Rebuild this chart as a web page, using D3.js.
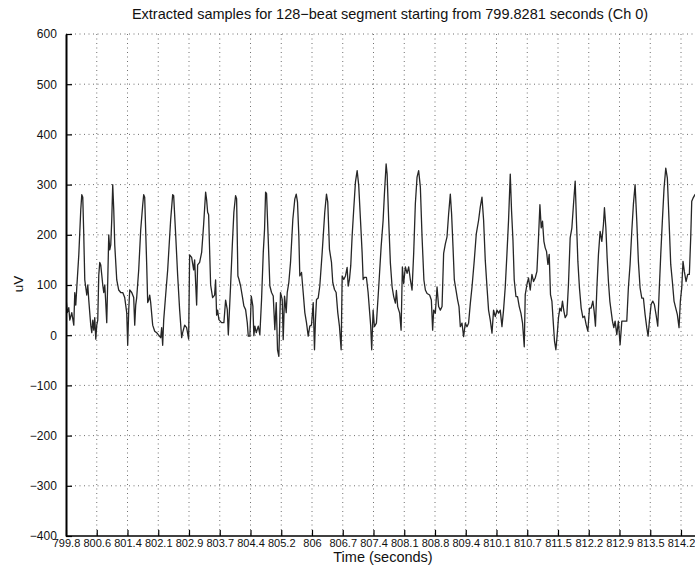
<!DOCTYPE html>
<html>
<head>
<meta charset="utf-8">
<script src="https://cdn.jsdelivr.net/npm/d3@7"></script>
<style>
  body { margin: 0; background: #fff; }
  text { font-family: "Liberation Sans", Arial, sans-serif; fill: #111; }
</style>
</head>
<body>
<div class="main"></div>
<script>
// segment start (s) and tick spacing
let t0 = 799.8281;
let tickStep = 0.7186;

let xTickLabels = ["799.8", "800.6", "801.4", "802.1", "802.9", "803.7", "804.4",
  "805.2", "806", "806.7", "807.4", "808.1", "808.8", "809.4", "810.1", "810.7",
  "811.5", "812.2", "812.9", "813.5", "814.2"];
let yTicks = [-400, -300, -200, -100, 0, 100, 200, 300, 400, 500, 600];

// time since segment start (s)
let sampleTimes = [
  0.000, 0.030, 0.065, 0.089, 0.135, 0.182, 0.205, 0.229, 0.252, 0.299, 0.345, 0.369, 0.392, 0.415,
  0.439, 0.462, 0.485, 0.509, 0.532, 0.555, 0.579, 0.602, 0.626, 0.649, 0.672, 0.696, 0.719, 0.742,
  0.766, 0.789, 0.812, 0.836, 0.859, 0.882, 0.906, 0.929, 0.952, 0.976, 0.999, 1.022, 1.046, 1.069,
  1.092, 1.116, 1.139, 1.186, 1.232, 1.279, 1.326, 1.372, 1.419, 1.442, 1.466, 1.489, 1.536, 1.582,
  1.606, 1.629, 1.652, 1.699, 1.746, 1.793, 1.816, 1.839, 1.886, 1.909, 1.933, 1.956, 1.979, 2.026,
  2.073, 2.119, 2.166, 2.213, 2.236, 2.259, 2.283, 2.329, 2.376, 2.446, 2.493, 2.516, 2.563, 2.609,
  2.656, 2.703, 2.726, 2.773, 2.819, 2.866, 2.889, 2.936, 2.983, 3.006, 3.053, 3.076, 3.123, 3.170,
  3.216, 3.263, 3.286, 3.310, 3.333, 3.356, 3.380, 3.426, 3.473, 3.496, 3.520, 3.543,
  3.573, 3.636, 3.690, 3.730, 3.769, 3.793, 3.846, 3.886, 3.923, 3.963, 3.987, 4.017, 4.040, 4.080,
  4.120, 4.157, 4.197, 4.236, 4.260, 4.297, 4.330, 4.367, 4.390, 4.414, 4.446, 4.493, 4.530, 4.570,
  4.610, 4.640, 4.664, 4.687, 4.726, 4.764, 4.803, 4.843, 4.880, 4.913, 4.943, 4.974, 5.013, 5.053,
  5.076, 5.107, 5.146, 5.170, 5.207, 5.247, 5.301, 5.347, 5.380, 5.410, 5.441, 5.464, 5.504, 5.543,
  5.581, 5.620, 5.660, 5.697, 5.737, 5.777, 5.807, 5.830, 5.854, 5.893, 5.931, 5.987, 6.047, 6.087,
  6.117, 6.157, 6.204, 6.234, 6.274, 6.313, 6.351, 6.390, 6.430, 6.454, 6.491, 6.531, 6.570, 6.594,
  6.624, 6.654, 6.687, 6.724, 6.764, 6.804, 6.841, 6.881, 6.920, 6.944, 6.974, 7.021, 7.060, 7.091,
  7.121, 7.144,
  7.177, 7.207, 7.254, 7.308, 7.364, 7.411, 7.441, 7.481, 7.504, 7.541, 7.581, 7.621, 7.658, 7.698,
  7.721, 7.751, 7.798, 7.831, 7.861, 7.891, 7.931, 7.971, 8.008, 8.048, 8.087, 8.125, 8.164, 8.204,
  8.241, 8.281, 8.321, 8.364, 8.398, 8.438, 8.498, 8.538, 8.568, 8.592, 8.631, 8.671, 8.708, 8.748,
  8.788, 8.825, 8.865, 8.904, 8.942, 8.981, 9.011, 9.044, 9.075, 9.114, 9.152, 9.184, 9.215, 9.254,
  9.292, 9.331, 9.371, 9.408, 9.448, 9.488, 9.541, 9.588, 9.642, 9.681, 9.721, 9.759, 9.798, 9.838,
  9.875, 9.915, 9.955, 9.992, 10.032, 10.071, 10.109, 10.148, 10.188, 10.225, 10.265, 10.305, 10.342,
  10.382, 10.412, 10.445, 10.475, 10.515, 10.552, 10.592, 10.631, 10.669, 10.709,
  10.732, 10.772, 10.809, 10.849, 10.888, 10.926, 10.965, 11.005, 11.042, 11.075, 11.105, 11.136,
  11.168, 11.199, 11.229, 11.262, 11.292, 11.322, 11.355, 11.385, 11.416, 11.448, 11.479, 11.509,
  11.542, 11.572, 11.602, 11.635, 11.665, 11.705, 11.742, 11.782, 11.822, 11.859, 11.899, 11.929,
  11.962, 11.999, 12.039, 12.079, 12.116, 12.156, 12.195, 12.233, 12.272, 12.312, 12.342, 12.373,
  12.406, 12.443, 12.482, 12.522, 12.559, 12.583, 12.616, 12.646, 12.676, 12.709, 12.739, 12.770,
  12.802, 12.832, 12.872, 12.909, 12.949, 12.989, 13.026, 13.065, 13.105, 13.142, 13.182, 13.222,
  13.259, 13.299, 13.339, 13.376, 13.416, 13.456, 13.493, 13.533, 13.572, 13.603, 13.633, 13.673,
  13.712, 13.750, 13.789, 13.829, 13.859, 13.899, 13.936, 13.976, 14.016, 14.053, 14.093, 14.132,
  14.170, 14.209, 14.249, 14.287, 14.326, 14.357, 14.389, 14.419, 14.450, 14.490, 14.529, 14.567,
  14.599, 14.623, 14.653, 14.699, 14.750
];

// amplitude (uV)
let sampleVolts = [
  75, 45, 55, 30, 45, 20, 85, 60, 95, 160, 250, 280, 275, 200,
  110, 95, 80, 100, 70, 45, 20, 5, 30, 10, 35, -8, 20, 30,
  120, 145, 140, 120, 100, 85, 100, 65, 25, 110, 200, 170, 180, 230,
  300, 250, 180, 110, 90, 85, 85, 75, 45, -20, 50, 90, 85, 75,
  20, 60, 75, 130, 210, 260, 280, 275, 140, 65, 70, 80, 65, 20,
  8, 5, 0, -5, 15, -20, 30, 80, 130, 230, 280, 278, 200, 120,
  50, -5, 5, 20, 15, -8, 160, 155, 130, 150, 60, 140, 145, 165,
  220, 285, 270, 245, 240, 170, 100, 75, 80, 110, 40, 50,
  31, 25, 25, 70, 51, 1, 98, 178, 245, 278, 272, 118, 112, 98,
  78, 58, 51, 25, -2, -2, 78, 58, -1, 18, 5, 18, 1, 71,
  165, 211, 285, 282, 191, 98, 85, 78, 11, 65, -29, -42, 85, 71,
  -9, 78, 45, 85, 105, 145, 231, 271, 281, 265, 198, 118, 125, 85,
  45, 25, -2, 18, 20, 65, -29, 31, 71, 74, 98, 165, 245, 281,
  265, 171, 145, 105, 91, 85, 45, 18, -29, 118, 111, 118, 135, 98,
  111, 138, 198, 251, 305, 328, 298, 231, 165, 111, 115, 115, 85, 51,
  18, -29,
  50, 17, 24, 96, 176, 229, 281, 341, 321, 229, 143, 96, 77, 64,
  89, 57, 44, 10, 136, 103, 136, 123, 136, 110, 90, 163, 262, 315,
  328, 295, 195, 110, 90, 83, 80, 70, 10, 50, 44, 96, 57, 50,
  57, 163, 182, 196, 242, 281, 242, 176, 110, 90, 70, 57, 17, 24,
  -3, 24, 17, 24, 63, 96, 149, 202, 229, 255, 275, 229, 149, 96,
  50, 30, 4, 50, 37, 50, 44, 50, 17, 50, 96, 163, 229,
  321, 248, 189, 110, 77, 77, 57, 44, 24, -23,
  81, 101, 114, 90, 121, 107, 114, 127, 194, 260, 214, 227,
  187, 174, 167, 141, 161, 81, 68, 28, -12, -29, 1, 35,
  54, 48, 68, 48, 35, 41, 101, 194, 214, 260, 307, 227,
  147, 94, 54, 35, 38, 21, 8, 54, 54, 68, 48, 18,
  94, 161, 207, 187, 220, 254, 214, 154, 107, 68, 48, 28,
  15, 28, 1, 28, -19, 28, 28, 28, 28, 94, 141, 207,
  260, 300, 227, 147, 94, 74, 74, 41, 15, -2, 28, 61,
  68, 61, 41, 18, 81, 161, 227, 293, 333, 313, 227, 141,
  107, 68, 54, 41, 15, 68, 94, 147, 127, 107, 121, 121,
  194, 267, 273, 280, 285
];

let width = 695, height = 570;
let plotLeft = 66, plotRight = 681, plotTop = 34, plotBottom = 536;

let svg = d3.select("div.main").append("svg")
  .attr("width", width)
  .attr("height", height);

let tickValues = xTickLabels.map(function(d, i) { return t0 + i * tickStep; });

let x = d3.scaleLinear()
  .domain([t0, t0 + (xTickLabels.length - 1) * tickStep])
  .range([plotLeft, plotRight]);

let y = d3.scaleLinear()
  .domain([-400, 600])
  .range([plotBottom, plotTop]);

// dotted grid
let grid = svg.append("g").attr("class", "grid")
  .attr("stroke", "#6f6f6f")
  .attr("stroke-width", 1)
  .attr("stroke-dasharray", "1,3.5");

grid.selectAll("line.gx")
  .data(tickValues.slice(1))
  .enter().append("line")
  .attr("class", "gx")
  .attr("x1", function(d) { return x(d); })
  .attr("x2", function(d) { return x(d); })
  .attr("y1", plotTop)
  .attr("y2", plotBottom);

grid.selectAll("line.gy")
  .data(yTicks.slice(1))
  .enter().append("line")
  .attr("class", "gy")
  .attr("x1", plotLeft)
  .attr("x2", width)
  .attr("y1", function(d) { return y(d); })
  .attr("y2", function(d) { return y(d); });

// the trace
svg.append("clipPath").attr("id", "plotclip")
  .append("rect")
  .attr("x", plotLeft).attr("y", 0)
  .attr("width", width - plotLeft).attr("height", plotBottom);

let n = Math.min(sampleTimes.length, sampleVolts.length);
let line = d3.line()
  .x(function(d, i) { return x(t0 + sampleTimes[i]); })
  .y(function(d) { return y(d); });

svg.append("path")
  .attr("d", line(sampleVolts.slice(0, n)))
  .attr("clip-path", "url(#plotclip)")
  .attr("fill", "none")
  .attr("stroke", "#262626")
  .attr("stroke-width", 1.3)
  .attr("stroke-linejoin", "round");

// axes, ticks pointing inward
let xAxis = d3.axisBottom(x)
  .tickValues(tickValues)
  .tickFormat(function(d, i) { return xTickLabels[i]; })
  .tickSizeInner(-6)
  .tickSizeOuter(0)
  .tickPadding(3);

let gx = svg.append("g")
  .attr("transform", "translate(0," + plotBottom + ")")
  .call(xAxis);
gx.select(".domain").attr("d", "M" + plotLeft + ",0H" + width).attr("stroke-width", 1.6);
gx.selectAll(".tick line").attr("stroke-width", 1.2);
gx.selectAll("text").attr("font-size", 11);

let yAxis = d3.axisLeft(y)
  .tickValues(yTicks)
  .tickSizeInner(-6)
  .tickSizeOuter(0)
  .tickPadding(8);

let gy = svg.append("g")
  .attr("transform", "translate(" + plotLeft + ",0)")
  .call(yAxis);
gy.select(".domain").attr("stroke-width", 2);
gy.selectAll(".tick line").attr("stroke-width", 1.2);
gy.selectAll("text").attr("font-size", 12).attr("dx", "-0.1em");

// labels
svg.append("text")
  .attr("x", 390)
  .attr("y", 19)
  .attr("text-anchor", "middle")
  .attr("font-size", 14.5)
  .text("Extracted samples for 128\u2212beat segment starting from 799.8281 seconds (Ch 0)");

svg.append("text")
  .attr("x", 383)
  .attr("y", 562)
  .attr("text-anchor", "middle")
  .attr("font-size", 14.5)
  .text("Time (seconds)");

svg.append("text")
  .attr("transform", "translate(23,284) rotate(-90)")
  .attr("text-anchor", "middle")
  .attr("font-size", 13.5)
  .text("uV");
</script>
</body>
</html>
